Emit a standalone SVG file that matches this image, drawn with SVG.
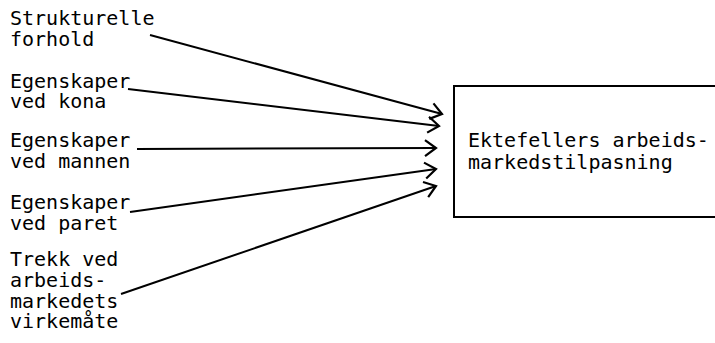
<svg xmlns="http://www.w3.org/2000/svg" width="715" height="343" viewBox="0 0 715 343">
<style>
  text { font-family: "DejaVu Sans Mono", "Liberation Mono", monospace; font-size: 20px; fill: #000; }
  .conn { stroke: #000; stroke-width: 2; fill: none; marker-end: url(#arr); }
  .box { fill: #fff; stroke: #000; stroke-width: 2; }
</style>
<defs>
  <marker id="arr" markerUnits="userSpaceOnUse" markerWidth="20" markerHeight="20" refX="0" refY="0" viewBox="-14 -10 16 20" orient="auto">
    <path d="M-11,-8 L0,0 L-11,8" fill="none" stroke="#000" stroke-width="2.2" stroke-linejoin="miter"/>
  </marker>
</defs>
<rect width="715" height="343" fill="#fff"/>
<g id="n1">
  <text x="10" y="25">Strukturelle</text>
  <text x="10" y="46">forhold</text>
</g>
<g id="n2">
  <text x="10" y="88">Egenskaper</text>
  <text x="10" y="108">ved kona</text>
</g>
<g id="n3">
  <text x="10" y="147">Egenskaper</text>
  <text x="10" y="168">ved mannen</text>
</g>
<g id="n4">
  <text x="10" y="209">Egenskaper</text>
  <text x="10" y="230">ved paret</text>
</g>
<g id="n5">
  <text x="10" y="266">Trekk ved</text>
  <text x="10" y="287">arbeids-</text>
  <text x="10" y="308">markedets</text>
  <text x="10" y="328">virkemåte</text>
</g>
<g id="target">
  <rect class="box" x="454" y="86" width="270" height="131"/>
  <text x="468" y="147">Ektefellers arbeids-</text>
  <text x="468" y="169">markedstilpasning</text>
</g>
<g id="connectors">
  <line class="conn" x1="150" y1="35" x2="442" y2="114"/>
  <line class="conn" x1="128" y1="89" x2="439" y2="126"/>
  <line class="conn" x1="137" y1="149" x2="436" y2="148"/>
  <line class="conn" x1="130" y1="212" x2="436" y2="169"/>
  <line class="conn" x1="121" y1="294" x2="436" y2="186"/>
</g>
</svg>
